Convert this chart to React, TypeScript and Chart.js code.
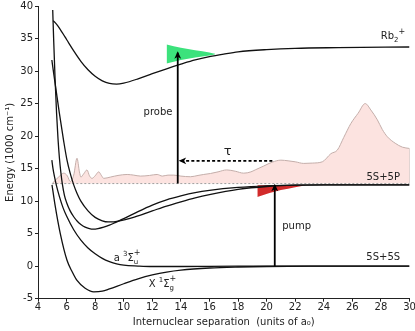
import React, { useEffect, useRef } from "react";
import { Chart, registerables } from "chart.js";

Chart.register(...registerables);

// ---------- data ----------
const rbIonX = [5.05, 5.2, 5.4, 5.7, 6.0, 6.5, 7.0, 7.5, 8.0, 8.5, 9.0, 9.5, 10.0, 11.0, 12.0, 13.0, 14.0, 15.0, 16.0, 17.0, 18.0, 20.0, 22.0, 25.0, 30.0];
const rbIonY = [37.75, 37.45, 36.9, 35.9, 34.85, 33.1, 31.5, 30.2, 29.2, 28.5, 28.1, 28.0, 28.15, 28.8, 29.6, 30.35, 31.05, 31.7, 32.2, 32.6, 32.95, 33.3, 33.5, 33.6, 33.7];

const exc1X = [5.03, 5.1, 5.2, 5.3, 5.4, 5.5, 5.6, 5.7, 5.85, 6.0, 6.25, 6.5, 6.75, 7.0, 7.3, 7.6, 7.85, 8.2, 8.6, 9.0, 9.4, 10, 11, 12, 13, 14, 15, 16, 18, 20, 22, 24, 30];
const exc1Y = [39.4, 34.6, 28.5, 23.5, 19.6, 16.6, 14.4, 12.7, 10.9, 9.8, 8.5, 7.6, 6.9, 6.4, 6.0, 5.78, 5.7, 5.78, 6.0, 6.3, 6.7, 7.3, 8.4, 9.4, 10.2, 10.8, 11.3, 11.65, 12.1, 12.35, 12.47, 12.5, 12.5];

const exc2X = [4.97, 5.1, 5.25, 5.49, 5.8, 6.03, 6.25, 6.5, 6.75, 7.0, 7.5, 8.0, 8.5, 8.9, 9.3, 9.8, 10.5, 11, 12, 13, 14, 15, 16, 18, 20, 22, 24, 30];
const exc2Y = [31.7, 29.6, 27.3, 23.6, 19.2, 16.3, 14.3, 12.5, 11.1, 10.0, 8.5, 7.5, 6.98, 6.8, 6.82, 7.0, 7.4, 7.75, 8.5, 9.25, 9.9, 10.5, 11.0, 11.8, 12.25, 12.45, 12.5, 12.5];

const tripletX = [4.97, 5.05, 5.15, 5.3, 5.5, 5.75, 6.0, 6.5, 7.0, 7.5, 8.0, 8.5, 9.0, 9.5, 10, 11, 12, 14, 18, 30];
const tripletY = [16.3, 15.0, 13.8, 12.3, 10.7, 9.0, 7.7, 5.6, 4.0, 2.8, 1.9, 1.2, 0.7, 0.35, 0.15, 0.02, -0.05, -0.05, 0, 0];

const singletX = [4.98, 5.2, 5.56, 6.03, 6.4, 6.73, 7.3, 7.9, 8.5, 9.0, 10, 11, 12, 13, 14, 16, 18, 20, 23, 30];
const singletY = [12.5, 9.3, 5.0, 0.9, -0.9, -2.2, -3.4, -3.95, -3.85, -3.5, -2.7, -1.95, -1.35, -0.9, -0.6, -0.28, -0.13, -0.05, 0, 0];

const spectrumX = [5.0, 5.2, 5.44, 5.8, 6.05, 6.26, 6.5, 6.73, 6.9, 7.0, 7.2, 7.43, 7.6, 7.78, 8.0, 8.25, 8.45, 8.6, 9.07, 9.6, 10.24, 10.7, 11.17, 11.8, 12.34, 12.7, 13.1, 13.5, 14.0, 14.67, 15.2, 15.6, 16.07, 16.6, 17.2, 17.8, 18.4, 18.9, 19.2, 19.8, 20.4, 21.0, 21.5, 22.0, 22.6, 23.2, 23.9, 24.5, 24.95, 25.4, 25.9, 26.4, 26.9, 27.3, 27.75, 28.1, 28.45, 29.0, 29.5, 30.0];
const spectrumY = [12.7, 13.2, 13.7, 14.3, 13.9, 13.0, 14.0, 16.6, 14.5, 13.7, 14.2, 14.8, 13.9, 13.5, 13.9, 14.5, 13.9, 13.5, 13.7, 13.95, 14.1, 14.0, 13.85, 13.95, 14.1, 13.85, 14.0, 14.0, 13.85, 13.75, 13.95, 14.1, 14.25, 14.5, 14.8, 14.6, 14.3, 14.5, 14.8, 15.4, 16.0, 16.3, 16.2, 16.05, 15.8, 15.85, 16.05, 17.3, 17.85, 19.8, 21.95, 23.5, 25.0, 24.0, 22.5, 21.0, 19.9, 18.9, 18.3, 18.1];
const spectrumBase = 12.7;
const spectrumEdgeX = [30, 30];
const spectrumEdgeY = [12.7, 18.1];
const baselineX = [5.0, 30.0];
const baselineY = [12.7, 12.7];

const probeTopX = [13.0, 14.0, 15.0, 16.0, 16.4];
const probeTopY = [34.1, 33.6, 33.2, 32.85, 32.65];
const probeBotX = [13.0, 14.0, 15.0, 16.0, 16.4];
const probeBotY = [31.15, 31.7, 32.1, 32.4, 32.6];

const pumpTopX = [19.35, 22.75];
const pumpTopY = [12.45, 12.45];
const pumpBotX = [19.35, 20.2, 21.0, 22.0, 22.75];
const pumpBotY = [10.65, 11.25, 11.7, 12.15, 12.45];

const pumpArrowX = [20.57, 20.57];
const pumpArrowY = [0, 12.45];
const probeArrowX = [13.78, 13.78];
const probeArrowY = [12.7, 32.8];
const delayArrowX = [20.4, 13.95];
const delayArrowY = [16.2, 16.2];

const xTicksMin = 4, xTicksMax = 30, xStep = 2;
const yTicksMin = -5, yTicksMax = 40, yStep = 5;

const FONT = "'DejaVu Sans', Verdana, sans-serif";
const INK = "#222";

type Run = { t: string; size: number; dy: number; stay?: boolean };
type Label = { x: number; y: number; align: "left" | "center"; runs: Run[] };

const labels: Label[] = [
  { x: 12.4, y: 23.7, align: "center", runs: [{ t: "probe", size: 10, dy: 0 }] },
  { x: 22.1, y: 6.05, align: "center", runs: [{ t: "pump", size: 10, dy: 0 }] },
  { x: 28.16, y: 13.65, align: "center", runs: [{ t: "5S+5P", size: 10, dy: 0 }] },
  { x: 28.16, y: 1.28, align: "center", runs: [{ t: "5S+5S", size: 10, dy: 0 }] },
  { x: 17.27, y: 17.6, align: "center", runs: [{ t: "τ", size: 13, dy: 0 }] },
  {
    x: 27.99, y: 35.3, align: "left",
    runs: [{ t: "Rb", size: 10, dy: 0 }, { t: "2", size: 7, dy: 3.5 }, { t: "+", size: 8, dy: -4.5 }],
  },
  {
    x: 9.3, y: 1.23, align: "left",
    runs: [
      { t: "a ", size: 10, dy: 0 }, { t: "3", size: 7, dy: -4 }, { t: "Σ", size: 10, dy: 0 },
      { t: "u", size: 7, dy: 4, stay: true }, { t: "+", size: 8, dy: -5 },
    ],
  },
  {
    x: 11.75, y: -2.77, align: "left",
    runs: [
      { t: "X ", size: 10, dy: 0 }, { t: "1", size: 7, dy: -4 }, { t: "Σ", size: 10, dy: 0 },
      { t: "g", size: 7, dy: 4, stay: true }, { t: "+", size: 8, dy: -5 },
    ],
  },
];

const arrowSets = [
  { xs: pumpArrowX, ys: pumpArrowY },
  { xs: probeArrowX, ys: probeArrowY },
  { xs: delayArrowX, ys: delayArrowY },
];

const pts = (xs: number[], ys: number[]) => xs.map((x, i) => ({ x, y: ys[i] }));

const annotPlugin = {
  id: "annot",
  afterDatasetsDraw(chart: any) {
    const { ctx, scales } = chart;
    const sx = scales.x, sy = scales.y;
    ctx.save();
    ctx.fillStyle = "#000";
    for (const a of arrowSets) {
      const n = a.xs.length;
      const x0 = sx.getPixelForValue(a.xs[n - 2]), y0 = sy.getPixelForValue(a.ys[n - 2]);
      const x1 = sx.getPixelForValue(a.xs[n - 1]), y1 = sy.getPixelForValue(a.ys[n - 1]);
      const len = Math.hypot(x1 - x0, y1 - y0) || 1;
      const ux = (x1 - x0) / len, uy = (y1 - y0) / len;
      const nx = -uy, ny = ux;
      const tx = x1 + ux * 1.5, ty = y1 + uy * 1.5;
      const L = 7.5, W = 3.4, N = 5.5;
      ctx.beginPath();
      ctx.moveTo(tx, ty);
      ctx.lineTo(tx - ux * L + nx * W, ty - uy * L + ny * W);
      ctx.lineTo(tx - ux * N, ty - uy * N);
      ctx.lineTo(tx - ux * L - nx * W, ty - uy * L - ny * W);
      ctx.closePath();
      ctx.fill();
    }
    ctx.fillStyle = INK;
    ctx.textBaseline = "middle";
    ctx.textAlign = "left";
    for (const lab of labels) {
      const px = sx.getPixelForValue(lab.x), py = sy.getPixelForValue(lab.y);
      let total = 0;
      for (const r of lab.runs) {
        ctx.font = `${r.size}px ${FONT}`;
        if (!r.stay) total += ctx.measureText(r.t).width;
      }
      let cx = lab.align === "center" ? px - total / 2 : px;
      for (const r of lab.runs) {
        ctx.font = `${r.size}px ${FONT}`;
        ctx.fillText(r.t, cx, py + r.dy);
        if (!r.stay) cx += ctx.measureText(r.t).width;
      }
    }
    ctx.restore();
  },
};

export default function App() {
  const ref = useRef<HTMLCanvasElement>(null);

  useEffect(() => {
    document.body.style.margin = "0";
    const canvas = ref.current as HTMLCanvasElement;
    const curve = (xs: number[], ys: number[], extra: any = {}) => ({
      data: pts(xs, ys),
      showLine: true,
      pointRadius: 0,
      borderColor: "#111",
      borderWidth: 1.3,
      fill: false,
      cubicInterpolationMode: "monotone",
      ...extra,
    });
    const straight = (xs: number[], ys: number[], extra: any = {}) => ({
      data: pts(xs, ys),
      showLine: true,
      pointRadius: 0,
      borderColor: "#000",
      borderWidth: 1.8,
      fill: false,
      ...extra,
    });

    const chart = new Chart(canvas, {
      type: "scatter",
      data: {
        datasets: [
          straight(pumpArrowX, pumpArrowY),
          straight(probeArrowX, probeArrowY),
          straight(delayArrowX, delayArrowY, { borderDash: [3, 2.2] }),
          curve(rbIonX, rbIonY),
          curve(exc1X, exc1Y),
          curve(exc2X, exc2Y),
          curve(tripletX, tripletY),
          curve(singletX, singletY),
          curve(probeTopX, probeTopY, { borderColor: "transparent", borderWidth: 0, fill: "+1", backgroundColor: "#3ce27c" }),
          curve(probeBotX, probeBotY, { borderColor: "transparent", borderWidth: 0 }),
          curve(pumpTopX, pumpTopY, { borderColor: "transparent", borderWidth: 0, fill: "+1", backgroundColor: "#d22b2b", cubicInterpolationMode: "default" }),
          curve(pumpBotX, pumpBotY, { borderColor: "transparent", borderWidth: 0 }),
          straight(baselineX, baselineY, { borderColor: "#a0a0a0", borderWidth: 1, borderDash: [2, 2] }),
          straight(spectrumEdgeX, spectrumEdgeY, { borderColor: "#c4aeaa", borderWidth: 1 }),
          curve(spectrumX, spectrumY, {
            borderColor: "#c4aeaa",
            borderWidth: 1,
            fill: { value: spectrumBase },
            backgroundColor: "#fce3e0",
          }),
        ],
      },
      options: {
        responsive: false,
        animation: false,
        devicePixelRatio: 1,
        layout: { padding: { left: 0, right: 5.5, top: 6, bottom: 0 } },
        plugins: { legend: { display: false }, tooltip: { enabled: false } },
        scales: {
          x: {
            type: "linear",
            min: xTicksMin,
            max: xTicksMax,
            ticks: { stepSize: xStep, color: INK, font: { family: FONT, size: 10 }, padding: 0, maxRotation: 0, autoSkip: false },
            grid: { display: true, drawOnChartArea: false, drawTicks: true, tickLength: 3, color: INK },
            border: { display: true, color: INK, width: 1 },
            title: {
              display: true,
              text: "Internuclear separation  (units of a₀)",
              color: INK,
              font: { family: FONT, size: 10 },
              padding: { top: 0, bottom: 2.3 },
            },
            afterFit: (s: any) => {
              s.height = 32.3;
              s.paddingLeft = 0;
              s.paddingRight = 0;
            },
          },
          y: {
            type: "linear",
            min: yTicksMin,
            max: yTicksMax,
            ticks: { stepSize: yStep, color: INK, font: { family: FONT, size: 10 }, padding: 2 },
            grid: { display: true, drawOnChartArea: false, drawTicks: true, tickLength: 3, color: INK },
            border: { display: true, color: INK, width: 1 },
            title: {
              display: true,
              text: "Energy (1000 cm⁻¹)",
              color: INK,
              font: { family: FONT, size: 10 },
              padding: { top: 4.5, bottom: 0 },
            },
            afterFit: (s: any) => {
              s.width = 38;
              s.paddingTop = 0;
              s.paddingBottom = 0;
            },
          },
        },
      },
      plugins: [annotPlugin],
    } as any);

    return () => chart.destroy();
  }, []);

  return (
    <div style={{ width: 415, height: 331 }}>
      <canvas ref={ref} width={415} height={331} style={{ display: "block" }} />
    </div>
  );
}
